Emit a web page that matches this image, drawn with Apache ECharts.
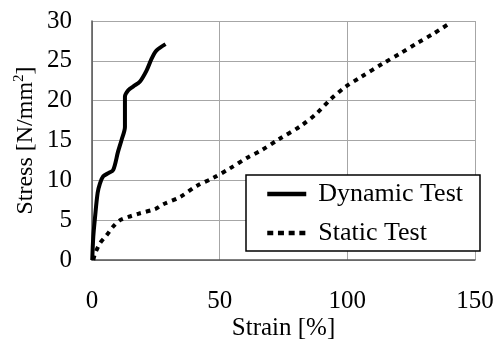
<!DOCTYPE html>
<html>
<head>
<meta charset="utf-8">
<script src="https://cdn.jsdelivr.net/npm/echarts@6/dist/echarts.min.js"></script>
<style>
  html, body { margin: 0; padding: 0; background: #fff; }
  #chart { width: 501px; height: 341px; }
</style>
</head>
<body>
<div id="chart"></div>
<script>
// values
const dynamicStrain = [0.1, 0.5, 1.2, 2.2, 3.1, 4.4, 6.4, 8.3, 10.2, 11.6, 12.9, 12.9, 14.2, 16.2, 18.8, 21.4, 23.4, 25.3, 28.8];
const dynamicStress = [0, 2.9, 5.4, 8.4, 9.6, 10.5, 10.9, 11.3, 13.6, 15.1, 16.7, 20.5, 21.3, 21.8, 22.4, 23.8, 25.3, 26.3, 27.1];

const staticStrain = [0.5, 1.2, 3.1, 5.7, 8.3, 11, 14.2, 18.1, 24.7, 27.9, 34.5, 41, 47.5, 54, 60.6, 66.5, 72.9, 82.1, 88, 93.2, 99.1, 105, 114.1, 120.6, 127.2, 133.7, 140];
const staticStress = [0, 0.8, 2.1, 3.1, 4.2, 5.0, 5.4, 5.8, 6.4, 7.0, 7.9, 9.3, 10.3, 11.5, 12.8, 13.8, 15.1, 16.9, 18.4, 20.1, 21.7, 22.9, 24.7, 25.9, 27.2, 28.4, 29.7];

const xTicks = { min: 0, max: 150, interval: 50 };
const yTicks = { min: 0, max: 30, interval: 5 };

const font = "Liberation Serif";

function zip(xs, ys) {
  return xs.map((x, i) => [x, ys[i]]);
}

const myChart = echarts.init(document.getElementById("chart"));

const options = {
  animation: false,
  backgroundColor: "#fff",
  textStyle: { fontFamily: font, color: "#000" },
  grid: { left: 92, right: 26, top: 21, bottom: 81, outerBoundsMode: "none", containLabel: false },
  legend: {
    orient: "vertical",
    left: 246,
    top: 175,
    padding: [5, 17, 4, 19],
    itemGap: 11,
    itemWidth: 39,
    itemHeight: 14,
    backgroundColor: "#fff",
    borderColor: "#000",
    borderWidth: 1.5,
    borderRadius: 0,
    itemStyle: { opacity: 0 },
    lineStyle: { width: 4.5 },
    textStyle: { fontFamily: font, fontSize: 26, color: "#000", lineHeight: 28, padding: [0, 0, 0, 7] },
    data: [
      { name: "Dynamic Test" },
      { name: "Static Test", lineStyle: { width: 4.5, type: [6, 4.7] } },
    ],
  },
  xAxis: {
    type: "value",
    ...xTicks,
    name: "Strain [%]",
    nameLocation: "middle",
    nameGap: 56,
    nameMoveOverlap: false,
    nameTextStyle: { fontFamily: font, fontSize: 25, color: "#000" },
    axisLine: { show: true, lineStyle: { color: "#555", width: 1.5 } },
    axisTick: { show: false },
    axisLabel: { margin: 29, fontFamily: font, fontSize: 25, color: "#000" },
    splitLine: { show: true, lineStyle: { color: "#a6a6a6", width: 1 } },
  },
  yAxis: {
    type: "value",
    ...yTicks,
    name: "{a|Stress [N/mm}{s|2}{a|]}",
    nameLocation: "middle",
    nameGap: 52,
    nameMoveOverlap: false,
    nameTextStyle: {
      fontFamily: font,
      color: "#000",
      rich: {
        a: { fontFamily: font, fontSize: 24, color: "#000", lineHeight: 28 },
        s: { fontFamily: font, fontSize: 15, color: "#000", verticalAlign: "top", lineHeight: 16 },
      },
    },
    axisLine: { show: true, lineStyle: { color: "#555", width: 1.5 } },
    axisTick: { show: false },
    axisLabel: { margin: 20, fontFamily: font, fontSize: 25, color: "#000" },
    splitLine: { show: true, lineStyle: { color: "#a6a6a6", width: 1 } },
  },
  series: [
    {
      name: "Dynamic Test",
      type: "line",
      data: zip(dynamicStrain, dynamicStress),
      showSymbol: false,
      symbol: "none",
      smooth: 0.3,
      lineStyle: { color: "#000", width: 4 },
      itemStyle: { color: "#000" },
    },
    {
      name: "Static Test",
      type: "line",
      data: zip(staticStrain, staticStress),
      showSymbol: false,
      symbol: "none",
      smooth: 0.3,
      lineStyle: { color: "#000", width: 4, type: [4.5, 5], cap: "butt" },
      itemStyle: { color: "#000" },
    },
  ],
};

myChart.setOption(options);
</script>
</body>
</html>
